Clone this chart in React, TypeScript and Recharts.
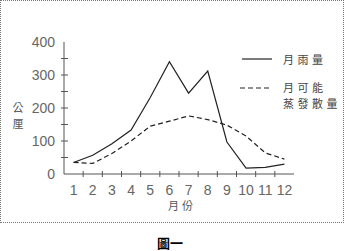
import React from 'react';
import { LineChart, Line, XAxis, YAxis, Legend } from 'recharts';

const months = [1, 2, 3, 4, 5, 6, 7, 8, 9, 10, 11, 12];
const rainfall = [35, 57, 92, 133, 232, 340, 245, 312, 97, 18, 20, 30];
const evaporation = [35, 32, 62, 100, 145, 160, 176, 165, 148, 115, 64, 45];
const yTicks = [0, 50, 100, 150, 200, 250, 300, 350, 400];
const seriesNames = ['月雨量', '月可能蒸發散量'];
const legendLines = [['月雨量'], ['月可能', '蒸發散量']];

const data = months.map((m, i) => ({
  month: m,
  rain: rainfall[i],
  evap: evaporation[i],
}));

// labels sit on the months, tick marks on the boundaries between them
const xTicks = [...months, ...months.slice(0, -1).map((m) => m + 0.5)].sort((a, b) => a - b);

const axisColor = '#555';
const numFont = '"Liberation Sans", Arial, sans-serif';
const cjkFont = '"Noto Sans CJK TC", sans-serif';

const XTick = (props: any) => {
  const { x, y, payload } = props;
  const v = payload.value;
  if (Number.isInteger(v)) {
    return (
      <text x={x} y={y + 21} textAnchor="middle" fill="#666" fontSize={14} fontFamily={numFont}>
        {v}
      </text>
    );
  }
  return <line x1={x} x2={x} y1={y - 3} y2={y + 3} stroke={axisColor} />;
};

const YTick = (props: any) => {
  const { x, y, payload } = props;
  const v = payload.value;
  return (
    <g>
      {v > 0 && v < 400 && <line x1={x - 3} x2={x + 4} y1={y} y2={y} stroke={axisColor} />}
      {v % 100 === 0 && (
        <text x={x - 9} y={y + 5} textAnchor="end" fill="#666" fontSize={14} fontFamily={numFont}>
          {v}
        </text>
      )}
    </g>
  );
};

const renderLegend = () => (
  <svg width={110} height={66}>
    <line x1={4} x2={34} y1={14} y2={14} stroke="#222" strokeWidth={1.2} />
    <line x1={2} x2={34} y1={43} y2={43} stroke="#222" strokeWidth={1.2} strokeDasharray="5 3" />
    <text fill="#444" fontSize={11} fontFamily={cjkFont} letterSpacing={3.5}>
      <tspan x={45} y={19}>{legendLines[0][0]}</tspan>
      <tspan x={45} y={47}>{legendLines[1][0]}</tspan>
      <tspan x={45} y={63}>{legendLines[1][1]}</tspan>
    </text>
  </svg>
);

const YTitle = () => (
  <text fill="#555" fontSize={11} fontFamily={cjkFont} textAnchor="middle">
    <tspan x={18} y={112}>公</tspan>
    <tspan x={18} y={128}>厘</tspan>
  </text>
);

export default function App() {
  return (
    <div style={{ position: 'absolute', left: 0, top: 0, width: 345, height: 251, background: '#fff' }}>
      <div
        style={{
          position: 'absolute',
          left: 0,
          top: 0,
          width: 342,
          height: 221,
          border: '1px dotted #777',
        }}
      />
      <div style={{ position: 'absolute', left: 0, top: 0 }}>
        <LineChart width={345} height={251} data={data} margin={{ top: 42, right: 51, bottom: 47, left: 24 }}>
          <XAxis
            dataKey="month"
            type="number"
            domain={[0.5, 12.5]}
            ticks={xTicks}
            interval={0}
            tick={<XTick />}
            tickSize={0}
            tickMargin={0}
            tickLine={false}
            axisLine={{ stroke: axisColor }}
            height={30}
            label={{
              value: '月份',
              position: 'insideBottom',
              offset: -6,
              dx: 3,
              fill: '#555',
              fontSize: 11,
              fontFamily: cjkFont,
              letterSpacing: 3,
            }}
          />
          <YAxis
            domain={[0, 400]}
            ticks={yTicks}
            interval={0}
            tick={<YTick />}
            tickSize={0}
            tickMargin={0}
            tickLine={false}
            axisLine={{ stroke: axisColor }}
            width={40}
            label={{ content: <YTitle /> }}
          />
          <Legend
            layout="horizontal"
            verticalAlign="middle"
            align="center"
            content={renderLegend}
            wrapperStyle={{ left: 238, top: 45, width: 110, height: 66 }}
          />
          <Line
            type="linear"
            dataKey="rain"
            name={seriesNames[0]}
            stroke="#222"
            strokeWidth={1.2}
            dot={false}
            isAnimationActive={false}
          />
          <Line
            type="linear"
            dataKey="evap"
            name={seriesNames[1]}
            stroke="#222"
            strokeWidth={1.2}
            strokeDasharray="5 3"
            dot={false}
            isAnimationActive={false}
          />
        </LineChart>
      </div>
      <div
        style={{
          position: 'absolute',
          left: 157,
          top: 235,
          fontSize: 13,
          fontFamily: cjkFont,
          color: '#000',
          fontWeight: 'bold',
          lineHeight: '16px',
        }}
      >
        圖一
      </div>
    </div>
  );
}
